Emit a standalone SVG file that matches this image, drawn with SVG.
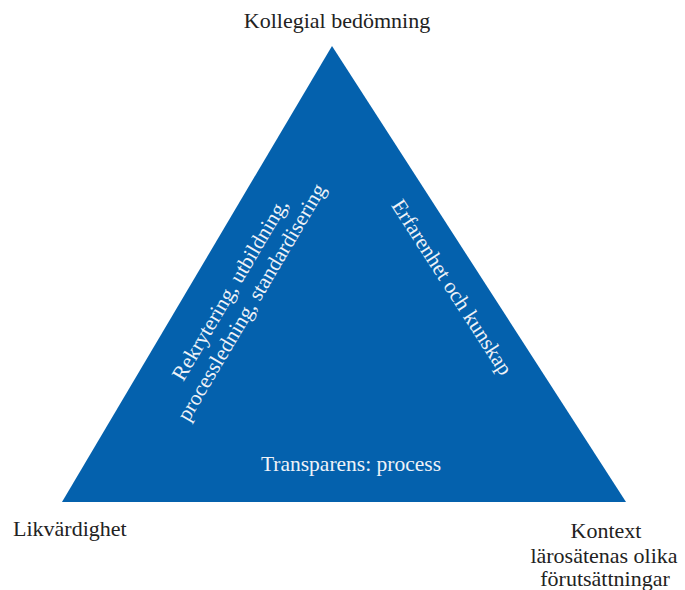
<svg xmlns="http://www.w3.org/2000/svg" width="685" height="590" viewBox="0 0 685 590">
<style>
.lbl{font-family:"Liberation Serif","DejaVu Serif",serif;font-size:22px;fill:#222;}
.in{font-family:"Liberation Serif","DejaVu Serif",serif;font-size:21.5px;fill:#eef2f8;}
</style>
<rect width="685" height="590" fill="#fff"/>
<g id="triangle">
<polygon points="332,46 62,502 626,502" fill="#0461ad"/>
</g>
<g id="connectors"></g>
<g id="left-side">
<text class="in" text-anchor="middle" transform="translate(236,293) rotate(-59.4)"><tspan x="0" y="0">Rekrytering, utbildning,</tspan><tspan x="0" y="25">processledning, standardisering</tspan></text>
</g>
<g id="right-side">
<text class="in" text-anchor="middle" transform="translate(446,291) rotate(57.2)">Erfarenhet och kunskap</text>
</g>
<g id="bottom-side">
<text class="in" text-anchor="middle" x="351" y="471">Transparens: process</text>
</g>
<g id="top-label">
<text class="lbl" text-anchor="middle" x="337" y="28">Kollegial bedömning</text>
</g>
<g id="left-label">
<text class="lbl" x="13" y="536">Likvärdighet</text>
</g>
<g id="right-label">
<text class="lbl" text-anchor="middle" x="606" y="538">Kontext<tspan x="604" y="563">lärosätenas olika</tspan><tspan x="605" y="586">förutsättningar</tspan></text>
</g>
</svg>
